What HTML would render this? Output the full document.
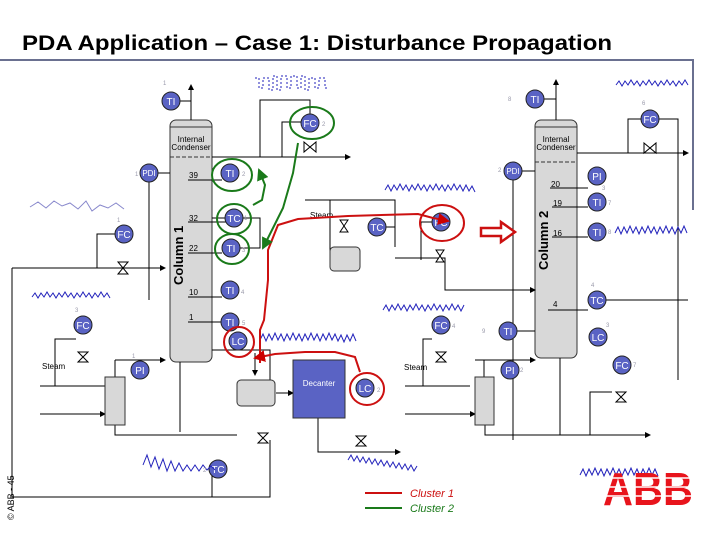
<!DOCTYPE html>
<html><head><meta charset="utf-8"><style>
html,body{margin:0;padding:0;background:#fff;width:720px;height:540px;overflow:hidden}
svg{display:block}
.i circle{fill:#5a63c4;stroke:#222;stroke-width:1}
.t{font-family:"Liberation Sans",sans-serif;fill:#fff;font-size:10px;text-anchor:middle}
.s{font-family:"Liberation Sans",sans-serif;font-size:8px;fill:#000}
.n{font-family:"Liberation Sans",sans-serif;font-size:6px;fill:#99a}
.w{fill:none;stroke:#2222bb;stroke-width:1}
</style></head><body>
<svg width="720" height="540" viewBox="0 0 720 540" xmlns="http://www.w3.org/2000/svg">
<defs><marker id="a" markerWidth="6" markerHeight="6" refX="5" refY="3" orient="auto"><path d="M0,0L6,3L0,6z" fill="#000"/></marker>
<marker id="r" markerWidth="6" markerHeight="6" refX="5" refY="3" orient="auto"><path d="M0,0L6,3L0,6z" fill="#c00"/></marker>
<marker id="g" markerWidth="6" markerHeight="6" refX="5" refY="3" orient="auto"><path d="M0,0L6,3L0,6z" fill="#1a7a1a"/></marker></defs>
<text x="22" y="50" font-family="Liberation Sans,sans-serif" font-weight="bold" font-size="21" textLength="590" lengthAdjust="spacingAndGlyphs">PDA Application – Case 1: Disturbance Propagation</text>
<path d="M0 60H693V210" stroke="#6a7090" stroke-width="2" fill="none"/>
<rect x="170" y="120" width="42" height="242" rx="6" fill="#d8d8d8" stroke="#333"/>
<line x1="170" y1="127" x2="212" y2="127" stroke="#333"/>
<line x1="170" y1="157" x2="212" y2="157" stroke="#333" stroke-dasharray="4,2"/>
<text x="191" y="142" class="s" text-anchor="middle" font-size="7">Internal</text>
<text x="191" y="150" class="s" text-anchor="middle" font-size="7">Condenser</text>
<text transform="translate(183,285) rotate(-90)" font-family="Liberation Sans,sans-serif" font-weight="bold" font-size="13">Column 1</text>
<rect x="535" y="120" width="42" height="238" rx="6" fill="#d8d8d8" stroke="#333"/>
<line x1="535" y1="127" x2="577" y2="127" stroke="#333"/>
<line x1="535" y1="162" x2="577" y2="162" stroke="#333" stroke-dasharray="4,2"/>
<text x="556" y="142" class="s" text-anchor="middle" font-size="7">Internal</text>
<text x="556" y="150" class="s" text-anchor="middle" font-size="7">Condenser</text>
<text transform="translate(548,270) rotate(-90)" font-family="Liberation Sans,sans-serif" font-weight="bold" font-size="13">Column 2</text>
<g class="s" font-size="9"><text x="189" y="178">39</text><text x="189" y="221">32</text><text x="189" y="251">22</text><text x="189" y="295">10</text><text x="189" y="320">1</text>
<text x="551" y="187">20</text><text x="553" y="206">19</text><text x="553" y="236">16</text><text x="553" y="307">4</text></g>
<g stroke="#000" fill="none" stroke-width="1">
<path d="M188 180H222M188 222H226M188 253H222M188 297H222M188 322H222"/>
<path d="M550 188H588M552 207H588M552 237H588M548 310H588"/>
<path d="M191 120V85" marker-end="url(#a)"/><path d="M180 101H191"/>
<path d="M556 120V80" marker-end="url(#a)"/><path d="M544 99H556"/>
<path d="M212 157H350" marker-end="url(#a)"/><path d="M260 157V100H310V115M282 157V122H301"/>
<path d="M577 153H688" marker-end="url(#a)"/><path d="M628 153V119H641M659 119H678V380"/>
<path d="M157 173H170M149 182V300"/><path d="M504 171H535M513 180V440"/>
<path d="M12 268H120H165" marker-end="url(#a)"/><path d="M97 268V234H115"/>
<path d="M212 218H260V248H240M212 350H270V380"/>
<path d="M305 200H395V247M330 200V258M395 258H445V290H535" marker-end="url(#a)"/>
<path d="M421 260V222H432"/><path d="M386 227H395"/>
<path d="M12 268V497H270V440"/><path d="M212 497V470"/>
<path d="M40 386H105M115 360H165" marker-end="url(#a)"/><path d="M55 386V339H76M55 386H75"/>
<path d="M115 425V435H237"/><path d="M115 360V377M276 393H293" marker-end="url(#a)"/>
<path d="M318 418V452H400" marker-end="url(#a)"/><path d="M180 362V432"/>
<path d="M405 386H470M475 360H535" marker-end="url(#a)"/><path d="M423 386V339H432M484 360V377"/>
<path d="M485 425V435H650" marker-end="url(#a)"/><path d="M590 435V392H612"/><path d="M560 358V435"/>
<path d="M606 300H688M508 331H535"/>
<path d="M255 353V375" marker-end="url(#a)"/>
<path d="M40 414H105" marker-end="url(#a)"/><path d="M405 414H475" marker-end="url(#a)"/>
</g>
<rect x="105" y="377" width="20" height="48" fill="#d8d8d8" stroke="#333"/>
<rect x="475" y="377" width="19" height="48" fill="#d8d8d8" stroke="#333"/>
<rect x="237" y="380" width="38" height="26" rx="4" fill="#d8d8d8" stroke="#333"/>
<rect x="330" y="247" width="30" height="24" rx="4" fill="#d8d8d8" stroke="#333"/>
<rect x="293" y="360" width="52" height="58" fill="#5a63c4" stroke="#333"/>
<text x="319" y="386" class="s" style="fill:#fff" text-anchor="middle" font-size="7">Decanter</text>
<text x="42" y="369" class="s" font-size="7">Steam</text><text x="404" y="370" class="s" font-size="7">Steam</text><text x="310" y="218" class="s" font-size="7">Steam</text>
<g fill="#fff" stroke="#000">
<path d="M304 142l12 10v-10l-12 10z"/><path d="M644 143l12 10v-10l-12 10z"/><path d="M118 264l12 10v-10l-12 10z" transform="rotate(90 124 268)"/>
<path d="M78 352l10 10v-10l-10 10z" transform="rotate(90 83 357)"/><path d="M436 352l10 10v-10l-10 10z" transform="rotate(90 441 357)"/>
<path d="M434 252l12 8v-8l-12 8z" transform="rotate(90 440 256)"/><path d="M616 392l10 10v-10l-10 10z" transform="rotate(90 621 397)"/>
<path d="M258 433l10 10v-10l-10 10z" transform="rotate(90 263 438)"/><path d="M356 436l10 10v-10l-10 10z" transform="rotate(90 361 441)"/>
<path d="M338 222l12 8v-8l-12 8z" transform="rotate(90 344 226)"/>
</g>
<g class="i">
<circle cx="171" cy="101" r="9"/><circle cx="535" cy="99" r="9"/><circle cx="650" cy="119" r="9"/><circle cx="310" cy="123" r="9"/>
<circle cx="149" cy="173" r="9"/><circle cx="230" cy="173" r="9"/><circle cx="513" cy="171" r="9"/><circle cx="597" cy="176" r="9"/>
<circle cx="597" cy="202" r="9"/><circle cx="597" cy="232" r="9"/><circle cx="234" cy="218" r="9"/><circle cx="231" cy="248" r="9"/>
<circle cx="230" cy="290" r="9"/><circle cx="597" cy="300" r="9"/><circle cx="230" cy="322" r="9"/><circle cx="238" cy="341" r="9"/>
<circle cx="124" cy="234" r="9"/><circle cx="83" cy="325" r="9"/><circle cx="140" cy="370" r="9"/><circle cx="441" cy="325" r="9"/>
<circle cx="508" cy="331" r="9"/><circle cx="598" cy="337" r="9"/><circle cx="622" cy="365" r="9"/><circle cx="510" cy="370" r="9"/>
<circle cx="365" cy="388" r="9"/><circle cx="218" cy="469" r="9"/><circle cx="441" cy="222" r="9"/><circle cx="377" cy="227" r="9"/>
</g>
<g class="t">
<text x="171" y="105">TI</text><text x="535" y="103">TI</text><text x="650" y="123">FC</text><text x="310" y="127">FC</text>
<text x="149" y="176" font-size="8">PDI</text><text x="230" y="177">TI</text><text x="513" y="174" font-size="8">PDI</text><text x="597" y="180">PI</text>
<text x="597" y="206">TI</text><text x="597" y="236">TI</text><text x="234" y="222">TC</text><text x="231" y="252">TI</text>
<text x="230" y="294">TI</text><text x="597" y="304">TC</text><text x="230" y="326">TI</text><text x="238" y="345">LC</text>
<text x="124" y="238">FC</text><text x="83" y="329">FC</text><text x="140" y="374">PI</text><text x="441" y="329">FC</text>
<text x="508" y="335">TI</text><text x="598" y="341">LC</text><text x="622" y="369">FC</text><text x="510" y="374">PI</text>
<text x="365" y="392">LC</text><text x="218" y="473">TC</text><text x="441" y="226">FC</text><text x="377" y="231">TC</text>
</g>
<g class="w">
<path d="M30 207l8-5 8 6 8-7 8 5 8-3 8 6 8-8 6 10 8-6 8 3 8-5 8 6" stroke="#8888cc"/>
<path d="M32 297l3-4 3 5 3-5 3 4 3-5 3 5 3-4 3 5 3-5 3 4 3-5 3 5 3-4 3 5 3-5 3 4 3-5 3 5 3-4 3 5 3-5 3 4 3-5 3 5 3-4 3 5"/>
<path d="M385 190l3-5 3 6 3-6 3 5 3-6 3 6 3-5 3 6 3-6 3 5 3-6 3 6 3-5 3 6 3-6 3 5 3-6 3 6 3-5 3 6 3-6 3 5 3-6 3 6 3-5 3 6 3-6 3 6 3-5 3 6"/>
<path d="M616 85l3-4 3 5 3-5 3 4 3-5 3 5 3-4 3 5 3-5 3 4 3-5 3 5 3-4 3 5 3-5 3 4 3-5 3 5 3-4 3 5 3-5 3 4 3-5 3 5"/>
<path d="M615 233l3-6 3 7 3-7 3 6 3-7 3 7 3-6 3 7 3-7 3 6 3-7 3 7 3-6 3 7 3-7 3 6 3-7 3 7 3-6 3 7 3-7 3 6 3-7 3 7"/>
<path d="M260 340l3-6 3 7 3-7 3 6 3-7 3 7 3-6 3 7 3-7 3 6 3-7 3 7 3-6 3 7 3-7 3 6 3-7 3 7 3-6 3 7 3-7 3 6 3-7 3 7 3-6 3 7 3-6 3 7 3-7 3 6 3-7 3 7"/>
<path d="M383 310l3-5 3 6 3-6 3 5 3-6 3 6 3-5 3 6 3-6 3 5 3-6 3 6 3-5 3 6 3-6 3 5 3-6 3 6 3-5 3 6 3-6 3 5 3-6 3 6 3-5 3 6 3-6"/>
<path d="M143 465l4-10 4 12 4-10 4 12 4-10 4 12 4-10 4 10 4-8 4 8 4-6 4 6 4-6 4 6 4-6 4 5 4-4 4 4"/>
<path d="M348 460l3-5 3 6 3-5 3 6 3-5 3 6 3-5 3 6 3-5 3 6 3-5 3 6 3-5 3 6 3-5 3 6 3-5 3 6 3-5 3 6 3-5 3 6 3-5"/>
<path d="M580 475l3-6 3 7 3-7 3 6 3-7 3 7 3-6 3 7 3-7 3 6 3-7 3 7 3-6 3 7 3-7 3 6 3-7 3 7 3-6 3 7 3-7 3 6 3-7 3 7 3-6 3 7"/>
<path d="M255 78h4v10h4V78h6v12h4V76h4v14h4V76h6v12h4V76h6v12h4V76h4v14h4V78h6v10h4V78h6v10h4" stroke-dasharray="2,2"/>
</g>
<g fill="none" stroke="#cc1010" stroke-width="2">
<path d="M260 363V330l4-10 4-40V250l10-25 20-6 50-3 70-2 15 4 15 3" marker-end="url(#r)"/>
<ellipse cx="442" cy="223" rx="22" ry="18"/>
<path d="M481 228h20v-6l14 10-14 10v-6h-20z" stroke-width="2.5"/>
<path d="M360 372l-5-15-20-5-30 0-30 2-20 4" marker-end="url(#r)"/>
<ellipse cx="239" cy="342" rx="15" ry="15"/><ellipse cx="367" cy="389" rx="17" ry="16"/>
</g>
<g fill="none" stroke="#1a7a1a" stroke-width="2">
<ellipse cx="312" cy="123" rx="22" ry="16"/><ellipse cx="232" cy="175" rx="20" ry="16"/>
<ellipse cx="234" cy="219" rx="17" ry="15"/><ellipse cx="232" cy="249" rx="17" ry="15"/>
<path d="M298 143l-5 30-10 35-20 40" marker-end="url(#g)"/>
<path d="M253 205l9-5 3-15-6-15" marker-end="url(#g)"/>
</g>
<g class="n"><text x="163" y="85">1</text><text x="508" y="101">8</text><text x="642" y="105">6</text><text x="322" y="126">2</text>
<text x="135" y="176">1</text><text x="242" y="176">2</text><text x="498" y="172">2</text><text x="602" y="190">3</text><text x="608" y="205">7</text><text x="608" y="234">8</text>
<text x="244" y="220">1</text><text x="242" y="252">3</text><text x="241" y="294">4</text><text x="591" y="287">4</text><text x="242" y="325">5</text>
<text x="117" y="222">1</text><text x="75" y="312">3</text><text x="132" y="358">1</text><text x="452" y="328">4</text><text x="482" y="333">9</text><text x="520" y="372">2</text><text x="606" y="327">3</text><text x="633" y="367">7</text><text x="377" y="392">2</text><text x="203" y="472">2</text></g>
<line x1="365" y1="493" x2="402" y2="493" stroke="#cc1010" stroke-width="2"/>
<line x1="365" y1="508" x2="402" y2="508" stroke="#1a7a1a" stroke-width="2"/>
<text x="410" y="497" font-family="Liberation Sans,sans-serif" font-style="italic" font-size="11" fill="#cc1010">Cluster 1</text>
<text x="410" y="512" font-family="Liberation Sans,sans-serif" font-style="italic" font-size="11" fill="#1a7a1a">Cluster 2</text>
<text x="648" y="505" font-family="Liberation Sans,sans-serif" font-weight="bold" font-size="46" fill="#e8141c" text-anchor="middle" textLength="90" lengthAdjust="spacingAndGlyphs">ABB</text>
<g stroke="#fff" stroke-width="1.5"><line x1="600" y1="478" x2="695" y2="478"/><line x1="600" y1="487" x2="695" y2="487"/><line x1="600" y1="496" x2="695" y2="496"/></g>
<text transform="translate(14,520) rotate(-90)" font-family="Liberation Sans,sans-serif" font-size="9">© ABB - 45</text>
</svg>
</body></html>
